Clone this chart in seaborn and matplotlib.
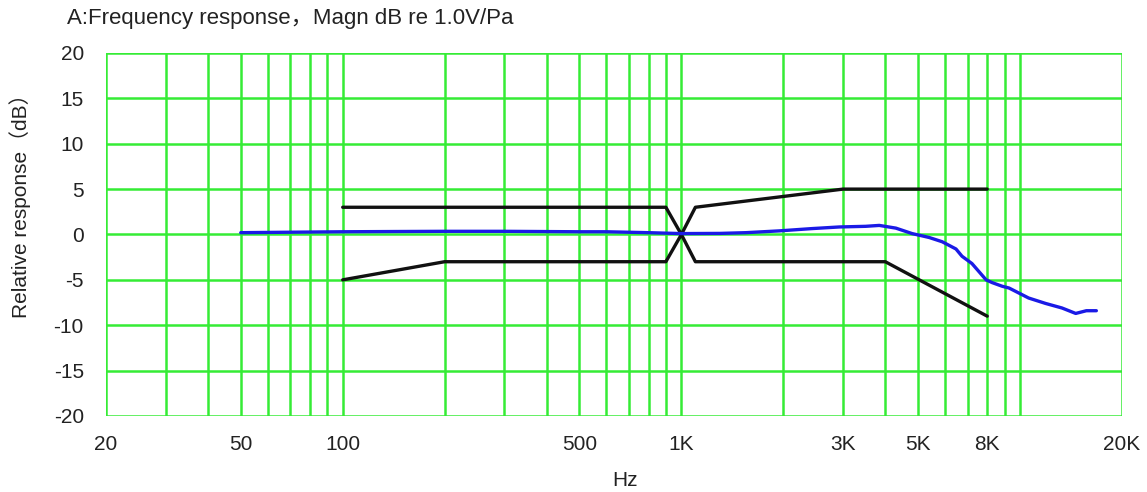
import numpy as np
import pandas as pd
import matplotlib
matplotlib.use("Agg")
import matplotlib.pyplot as plt
import seaborn as sns

# ---- data ----
resp_freq = [50, 70, 100, 150, 200, 300, 500, 600, 800, 1000, 1300, 1550, 1950, 2430,
             2930, 3500, 3840, 4300, 4800, 5390, 5890, 6470, 6740, 7210, 7940, 8270,
             8850, 9280, 10600, 11900, 13300, 14600, 15700, 16800]
resp_db = [0.2, 0.25, 0.3, 0.33, 0.35, 0.35, 0.3, 0.3, 0.2, 0.1, 0.12, 0.2, 0.4, 0.65,
           0.83, 0.9, 1.0, 0.7, 0.1, -0.33, -0.8, -1.6, -2.4, -3.2, -5.0, -5.3,
           -5.7, -5.9, -7.0, -7.6, -8.1, -8.7, -8.4, -8.4]

upper_freq = [100, 900, 1000, 1100, 3000, 8000]
upper_db = [3, 3, 0, 3, 5, 5]
lower_freq = [100, 200, 900, 1000, 1100, 4000, 8000]
lower_db = [-5, -3, -3, 0, -3, -3, -9]

grid_freqs = [20, 30, 40, 50, 60, 70, 80, 90, 100, 200, 300, 400, 500, 600, 700, 800,
              900, 1000, 2000, 3000, 4000, 5000, 6000, 7000, 8000, 9000, 10000, 20000]
tick_freqs = [20, 50, 100, 500, 1000, 3000, 5000, 8000, 20000]
tick_labels = ["20", "50", "100", "500", "1K", "3K", "5K", "8K", "20K"]
y_ticks = [-20, -15, -10, -5, 0, 5, 10, 15, 20]

title = "A:Frequency response，Magn dB re 1.0V/Pa"
ylabel = "Relative response（dB）"
xlabel = "Hz"

# ---- style ----
sns.set_style("white")
plt.rcParams["font.family"] = ["Liberation Sans", "Noto Sans CJK SC", "DejaVu Sans"]

fig = plt.figure(figsize=(11.47, 4.92), dpi=100)
ax = fig.add_axes([0.0924, 0.1545, 0.8858, 0.7378])

green = "#35ec35"
ax.set_xscale("log")
ax.set_xlim(20, 20000)
ax.set_ylim(-20, 20)

for f in grid_freqs:
    ax.axvline(f, color=green, lw=1.8, zorder=0)
for y in y_ticks:
    ax.axhline(y, color=green, lw=1.8, zorder=0)

resp = pd.DataFrame({"f": resp_freq, "db": resp_db})
up = pd.DataFrame({"f": upper_freq, "db": upper_db})
lo = pd.DataFrame({"f": lower_freq, "db": lower_db})

sns.lineplot(data=up, x="f", y="db", ax=ax, color="#111111", lw=2.4, sort=False,
             estimator=None, zorder=3)
sns.lineplot(data=lo, x="f", y="db", ax=ax, color="#111111", lw=2.4, sort=False,
             estimator=None, zorder=3)
sns.lineplot(data=resp, x="f", y="db", ax=ax, color="#1a1ae6", lw=2.4, sort=False,
             estimator=None, zorder=4)

ax.set_xticks(tick_freqs)
ax.set_xticklabels(tick_labels)
ax.xaxis.set_minor_locator(matplotlib.ticker.NullLocator())
ax.set_yticks(y_ticks)
ax.set_yticklabels([str(v) for v in y_ticks])
ax.tick_params(axis="both", length=0, labelsize=15, colors="#222222")
ax.tick_params(axis="x", pad=14)
ax.tick_params(axis="y", pad=16)

for s in ax.spines.values():
    s.set_visible(False)

ax.set_xlabel("")
ax.set_ylabel("")
fig.text(625 / 1147, 1 - 481 / 492, xlabel, fontsize=15, color="#222222",
         ha="center", va="center")
fig.text(20 / 1147, 1 - 201 / 492, ylabel, fontsize=15, color="#222222",
         ha="center", va="center", rotation=90)
fig.text(0.058, 0.963, title, fontsize=16, color="#222222", ha="left", va="center")

fig.savefig("out.png", dpi=100)
